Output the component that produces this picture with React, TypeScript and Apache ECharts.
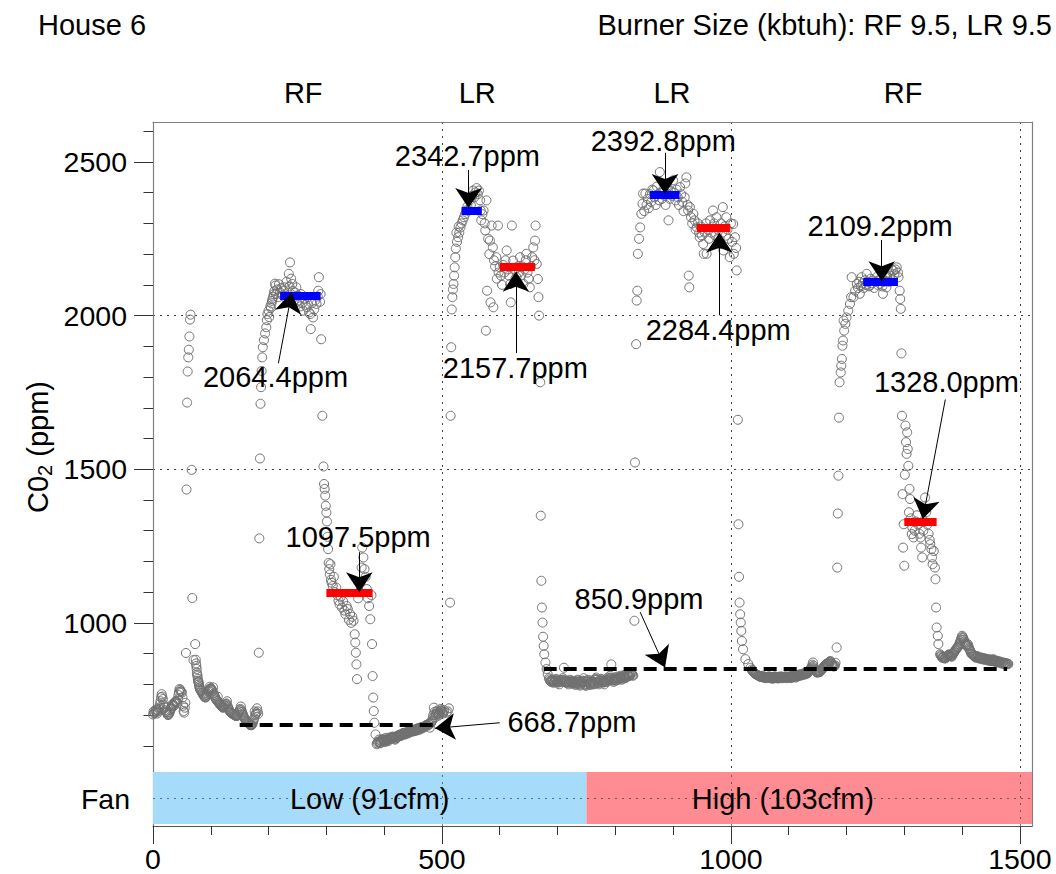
import React, { useEffect, useRef } from 'react';
import * as echarts from 'echarts';

type Pt = [number, number];

// ---------------- data (time, CO2 ppm) ----------------
const lowStart: Pt[] = [[0,702],[1,712],[3,708],[5,718],[7,705],[9,712],[11,725],[13,745],[15,768],[17,752],[18,735],[20,724],[22,712],[24,708],[26,700],[28,705],[30,716],[32,724],[34,736],[36,730],[38,742],[40,746],[42,738],[44,765],[46,785],[48,778],[50,773],[51,757],[52,730],[53,713],[54,708],[55,724],[56,740]];
const lowStartB: Pt[] = [[2,706],[4,714],[6,710],[8,716],[10,720],[12,735],[14,758],[16,760],[19,728],[21,716],[23,710],[25,703],[27,702],[29,710],[31,720],[33,730],[35,733],[37,738],[39,744],[41,742],[43,752],[45,775],[47,782],[49,776]];
const rf1Spike: Pt[] = [[57,902],[58,1434],[59,1717],[60,1818],[61,1864],[62,1889],[63,1932],[64,1987],[65,2003],[67,1498],[68,1081],[70,879],[73,931]];
const rf1Decay: Pt[] = [[74,880],[75,860],[76,838],[77,827],[78,812],[79,806],[80,795],[81,786],[83,779],[85,772],[87,766],[89,760],[91,757],[93,765],[95,776],[97,782],[98,792],[99,787],[101,785],[103,778],[104,790],[105,770],[107,760],[109,752],[111,746],[112,760],[113,742],[115,738],[117,732],[119,728],[121,724],[123,727],[125,733],[127,738],[128,745],[129,730],[131,720],[133,712],[135,708],[137,705],[139,703],[141,700],[143,698],[145,697],[147,702],[149,712],[151,720],[152,728],[153,716],[155,705],[157,695],[159,688],[161,682],[163,678],[165,674],[167,670],[169,667],[171,668],[173,676],[175,690],[176,712],[177,700],[179,708],[180,722],[181,712],[182,704]];
const rf1DecayB: Pt[] = [[74.5,868],[75.5,850],[76.5,832],[77.5,818],[78.5,808],[79.5,800],[80.5,790],[82,782],[84,776],[86,769],[88,763],[90,758],[92,760],[94,770],[96,779],[100,786],[102,782],[106,765],[108,756],[110,749],[114,740],[116,735],[118,730],[120,726],[122,725],[124,730],[126,736],[130,725],[132,716],[134,710],[136,706],[138,704],[140,701],[142,699],[144,697],[146,699],[148,707],[150,716],[154,710],[156,700],[158,691],[160,685],[162,680],[164,676],[166,672],[168,668],[170,667],[172,671],[174,683],[178,704]];
const rf1Rise: Pt[] = [[183,903],[184,1275],[185,1535],[186,1713],[187,1767],[188,1820],[189,1864],[190,1897],[192,1920],[194,1942],[196,1962],[197,1985],[198,2005],[200,2016],[201,1995],[203,2030],[205,2040],[207,2055],[209,2070],[211,2104]];
const rf1High: Pt[] = [[204,2025],[206,2048],[208,2062],[210,2080],[212,2098],[213,2070],[215,2085],[217,2060],[218,2102],[220,2075],[222,2090],[224,2066],[226,2081],[228,2092],[229,2058],[231,2110],[233,2075],[235,2136],[236,2095],[237,2173],[239,2120],[241,2103],[242,2080],[244,2060],[246,2075],[248,2092],[249,2045],[251,2065],[253,2049],[255,2030],[256,2070],[258,2040],[260,2016],[262,2055],[264,2035],[266,2027],[268,2060],[270,2010],[272,2005],[273,1956],[275,2040],[277,1994],[279,2020],[281,2050],[283,2038],[285,2062],[286,2081],[287,2125],[289,2045],[290,2070]];
const rf1Drop: Pt[] = [[291,1923],[293,1674],[295,1509],[296,1452],[297,1436],[298,1414],[299,1381],[300,1359]];
const rf1Low: Pt[] = [[301,1330],[302,1280],[303,1240],[304,1195],[305,1175],[306,1158],[307,1191],[308,1140],[309,1131],[311,1120],[313,1150],[315,1100],[317,1115],[319,1090],[321,1072],[323,1060],[325,1085],[327,1050],[329,1070],[331,1040],[333,1028],[335,1055],[337,1045],[339,1010],[341,1029],[343,1000],[345,1020],[347,1007],[349,963],[350,936],[351,903],[352,865],[353,817],[355,1080],[357,1100],[359,1130],[361,1180],[362,1245],[364,1213],[366,1175],[368,1150],[370,1110],[372,1080],[374,1055],[376,1012],[378,1090]];
const rf1Fall: Pt[] = [[379,931],[380,827],[381,757],[382,713],[383,675],[385,637],[387,605]];
const lowEnd: Pt[] = [[389,612],[391,620],[393,608],[395,615],[397,622],[399,618],[401,612],[403,626],[405,620],[407,615],[409,622],[411,628],[413,624],[415,630],[417,626],[419,620],[421,628],[423,633],[425,630],[427,637],[429,632],[431,638],[433,642],[435,636],[437,640],[439,645],[441,640],[443,648],[445,644],[447,650],[449,646],[451,652],[453,648],[455,655],[457,650],[459,658],[461,652],[463,660],[465,656],[467,662],[469,660],[471,664],[473,668],[475,665],[477,672],[479,659],[481,675],[483,682],[485,700],[486,724],[488,692],[490,705],[492,715],[494,698],[496,708],[498,720],[500,712],[502,705],[504,716],[508,708],[510,712]];
const lowEndB: Pt[] = [[388,608],[390,614],[392,612],[394,610],[396,618],[398,620],[400,615],[402,618],[404,622],[406,618],[408,620],[410,625],[412,626],[414,627],[416,628],[418,623],[420,624],[422,630],[424,632],[426,634],[428,635],[430,635],[432,640],[434,639],[436,638],[438,642],[440,642],[442,646],[444,646],[446,647],[448,648],[450,649],[452,650],[454,652],[456,652],[458,654],[460,655],[462,656],[464,658],[466,659],[468,661],[470,662],[472,666],[474,667],[476,668],[478,670],[480,672],[482,678],[484,690],[487,710],[489,700],[491,710],[493,705],[495,702],[497,714],[499,716],[501,708],[503,710]];
const lr1Rise: Pt[] = [[512,722],[514,1066],[515,1674],[516,1897],[517,2020],[518,2060],[519,2085],[520,2103],[521,2130],[522,2157],[523,2190],[524,2218],[525,2270],[526,2240],[528,2255],[529,2290],[530,2270],[532,2287],[534,2300],[536,2310],[538,2320],[540,2330],[542,2342],[544,2355],[546,2342],[548,2375],[550,2360],[552,2390],[554,2407],[556,2385],[558,2401],[560,2415],[562,2395],[564,2407],[566,2375],[567,2342],[568,2310]];
const lr1High: Pt[] = [[570,2330],[572,2342],[574,2300],[575,2277],[576,1951],[577,2375],[578,2081],[580,2250],[582,2200],[583,2244],[584,2043],[586,2293],[588,2222],[589,2027],[590,2180],[592,2160],[594,2190],[595,2120],[597,2293],[598,2140],[600,2157],[602,2130],[604,2100],[606,2165],[608,2140],[610,2180],[612,2212],[614,2150],[616,2130],[618,2103],[619,2043],[621,2293],[623,2179],[625,2150],[627,2120],[629,2125],[631,2160],[633,2140],[635,2190],[637,2130],[639,2160],[641,2103],[643,2150],[645,2180],[646,2201],[648,2140],[650,2120],[652,2092],[654,2160],[656,2190],[658,2222],[660,2180],[661,2244],[662,2293],[664,2168],[666,2119],[667,2060],[668,2000]];
const lr1Fall: Pt[] = [[670,1783],[671,1349],[672,1137],[673,1050],[674,1001],[675,955],[676,925],[677,898],[679,871],[681,850],[683,833]];
const highStart: Pt[] = [[685,820],[687,812],[689,808],[691,815],[693,805],[695,810],[697,818],[699,806],[701,812],[703,800],[705,815],[707,808],[709,820],[711,854],[713,812],[715,805],[717,810],[719,800],[721,815],[723,808],[725,802],[727,812],[729,805],[731,798],[733,808],[735,815],[737,802],[739,796],[741,810],[743,805],[745,820],[747,800],[749,795],[751,808],[753,815],[755,802],[757,798],[759,812],[761,805],[763,800],[765,815],[767,822],[769,808],[771,800],[773,812],[775,818],[777,806],[779,812],[781,800],[783,815],[785,808],[787,822],[789,812],[791,828],[793,865],[795,815],[797,808],[799,820],[801,812],[803,825],[805,815],[807,822],[809,828],[811,815],[813,822],[815,830],[817,820],[819,825],[821,833],[823,826],[825,830],[827,840],[829,833],[831,828]];
const highStartB: Pt[] = [[686,816],[688,810],[690,812],[692,810],[694,808],[696,814],[698,812],[700,809],[702,806],[704,808],[706,812],[708,814],[710,815],[712,808],[714,808],[716,808],[718,805],[720,808],[722,812],[724,805],[726,807],[728,808],[730,802],[732,803],[734,812],[736,808],[738,799],[740,803],[742,808],[744,812],[746,810],[748,798],[750,802],[752,812],[754,808],[756,800],[758,805],[760,808],[762,802],[764,808],[766,818],[768,815],[770,804],[772,806],[774,815],[776,812],[778,809],[780,806],[782,808],[784,812],[786,815],[788,817],[790,820],[792,822],[794,818],[796,812],[798,814],[800,816],[802,818],[804,820],[806,818],[808,825],[810,822],[812,818],[814,826],[816,825],[818,822],[820,829],[822,830],[824,828],[826,835],[828,836],[830,830]];
const lr2Rise: Pt[] = [[833,1007],[834,1522],[836,1907],[837,2049],[838,2081],[839,2201],[841,2250],[843,2287],[845,2331],[847,2364],[848,2397]];
const lr2High: Pt[] = [[850,2340],[852,2397],[854,2360],[856,2380],[858,2350],[860,2395],[862,2370],[864,2410],[866,2407],[868,2385],[870,2360],[872,2420],[874,2395],[876,2375],[877,2467],[879,2400],[881,2380],[883,2410],[885,2390],[887,2360],[889,2420],[891,2395],[892,2310],[894,2380],[896,2405],[898,2390],[900,2440],[902,2400],[904,2375],[906,2410],[908,2385],[910,2360],[912,2418],[914,2395],[916,2370],[918,2340],[920,2385],[921,2430],[923,2450],[925,2360],[926,2342],[927,2130],[928,2092],[929,2353],[931,2320],[933,2300],[935,2331],[937,2310],[939,2280],[941,2287],[943,2300],[945,2270],[946,2255],[948,2290],[950,2260],[952,2233],[953,2201],[955,2270],[957,2300],[958,2201],[960,2280],[962,2250],[964,2310],[966,2270],[968,2290],[969,2342],[971,2300],[973,2260],[975,2320],[977,2280],[979,2250],[981,2233],[983,2300],[985,2270],[986,2353],[987,2212],[989,2290],[991,2260],[992,2320],[994,2280],[996,2250],[998,2190],[1000,2300],[1002,2240],[1004,2298],[1005,2201],[1007,2255],[1009,2220],[1010,2147]];
const lr2Fall: Pt[] = [[1012,1661],[1013,1321],[1014,1150],[1015,1066],[1016,1028],[1017,1001],[1018,974],[1019,941],[1021,914],[1025,882],[1030,866],[1034,854]];
const highMid: Pt[] = [[1036,848],[1038,842],[1040,838],[1042,835],[1044,832],[1046,830],[1048,828],[1050,826],[1052,824],[1054,828],[1056,822],[1058,825],[1060,820],[1062,824],[1064,822],[1066,826],[1068,820],[1070,824],[1072,818],[1074,822],[1076,826],[1078,820],[1080,824],[1082,819],[1084,823],[1086,826],[1088,820],[1090,824],[1092,822],[1094,826],[1096,820],[1098,825],[1100,822],[1102,826],[1104,820],[1106,828],[1108,824],[1110,828],[1112,822],[1114,830],[1116,826],[1118,832],[1120,828],[1122,834],[1124,830],[1126,836],[1128,832],[1130,838],[1132,835],[1134,840],[1136,845],[1138,850],[1140,858],[1142,871],[1144,852],[1146,845],[1148,840],[1150,838],[1152,842],[1154,840],[1156,846],[1158,850],[1160,855],[1162,860],[1164,864],[1166,868],[1168,866],[1170,872],[1172,876],[1174,868],[1176,862],[1178,858],[1180,862]];
const highMidB: Pt[] = [[1037,845],[1039,840],[1041,836],[1043,833],[1045,831],[1047,829],[1049,827],[1051,825],[1053,826],[1055,825],[1057,823],[1059,822],[1061,822],[1063,823],[1065,824],[1067,823],[1069,822],[1071,821],[1073,820],[1075,824],[1077,823],[1079,822],[1081,821],[1083,821],[1085,824],[1087,823],[1089,822],[1091,823],[1093,824],[1095,823],[1097,822],[1099,823],[1101,824],[1103,823],[1105,824],[1107,826],[1109,826],[1111,825],[1113,826],[1115,828],[1117,829],[1119,830],[1121,831],[1123,832],[1125,833],[1127,834],[1129,835],[1131,836],[1133,838],[1135,842],[1137,848],[1139,854],[1141,864],[1143,860],[1145,848],[1147,842],[1149,839],[1151,840],[1153,841],[1155,843],[1157,848],[1159,852],[1161,858],[1163,862],[1165,866],[1167,867],[1169,869],[1171,874],[1173,872],[1175,865],[1177,860],[1179,860],[1181,870]];
const rf2Rise: Pt[] = [[1183,920],[1184,1180],[1185,1356],[1186,1479],[1187,1668],[1188,1783],[1190,1815],[1191,1837],[1192,1859],[1193,1902],[1194,1919],[1195,1984],[1196,1951],[1198,1973],[1200,1994],[1203,2016],[1206,2038],[1208,2060]];
const rf2High: Pt[] = [[1209,2125],[1212,2060],[1215,2081],[1218,2103],[1220,2090],[1222,2110],[1223,2071],[1225,2095],[1226,2125],[1228,2105],[1230,2090],[1232,2115],[1234,2100],[1235,2136],[1237,2110],[1239,2095],[1240,2098],[1242,2120],[1244,2105],[1246,2114],[1248,2090],[1250,2110],[1252,2125],[1254,2100],[1256,2115],[1258,2103],[1260,2120],[1262,2095],[1263,2071],[1265,2110],[1267,2125],[1269,2092],[1270,2125],[1272,2140],[1274,2110],[1276,2130],[1278,2150],[1280,2115],[1281,2147],[1283,2135],[1285,2150],[1287,2157],[1289,2140],[1290,2125],[1292,2081],[1293,2054],[1294,2022],[1295,1877]];
const rf2Low: Pt[] = [[1296,1674],[1297,1419],[1298,1245],[1299,1321],[1300,1186],[1301,1482],[1302,1642],[1303,1588],[1304,1550],[1305,1620],[1306,1566],[1307,1511],[1308,1360],[1309,1436],[1310,1403],[1311,1340],[1313,1289],[1314,1310],[1316,1278],[1318,1300],[1320,1330],[1322,1350],[1324,1320],[1326,1290],[1328,1278],[1329,1245],[1331,1213],[1333,1300],[1335,1330],[1336,1408],[1338,1360],[1340,1320],[1342,1290],[1344,1270],[1345,1256],[1347,1240],[1348,1213],[1349,1191],[1351,1234],[1353,1180],[1354,1142],[1355,1050],[1356,985],[1358,958],[1359,931],[1362,898]];
const highEnd: Pt[] = [[1364,892],[1366,886],[1368,890],[1370,884],[1372,887],[1374,892],[1376,895],[1378,898],[1380,893],[1382,890],[1384,898],[1386,904],[1388,910],[1390,915],[1392,920],[1394,925],[1396,935],[1398,945],[1400,958],[1402,950],[1404,940],[1406,932],[1408,925],[1410,931],[1412,918],[1414,910],[1416,900],[1418,898],[1420,894],[1422,890],[1424,887],[1426,892],[1428,887],[1430,884],[1432,888],[1434,882],[1436,886],[1438,880],[1440,884],[1442,882],[1444,878],[1446,882],[1448,876],[1450,880],[1452,876],[1454,882],[1456,874],[1458,878],[1460,872],[1462,876],[1464,871],[1466,874],[1468,868],[1470,872],[1472,866],[1474,870],[1476,865],[1478,868],[1480,866]];
const highEndB: Pt[] = [[1363,895],[1365,889],[1367,888],[1369,887],[1371,885],[1373,890],[1375,893],[1377,896],[1379,895],[1381,891],[1383,894],[1385,901],[1387,907],[1389,912],[1391,918],[1393,922],[1395,930],[1397,940],[1399,952],[1401,954],[1403,945],[1405,936],[1407,928],[1409,928],[1411,925],[1413,914],[1415,905],[1417,899],[1419,896],[1421,892],[1423,888],[1425,890],[1427,890],[1429,885],[1431,886],[1433,885],[1435,884],[1437,883],[1439,882],[1441,883],[1443,880],[1445,880],[1447,879],[1449,878],[1451,878],[1453,879],[1455,878],[1457,876],[1459,875],[1461,874],[1463,873],[1465,872],[1467,871],[1469,870],[1471,869],[1473,868],[1475,867],[1477,866],[1479,867]];

const meanBars = [
  { t0: 220, t1: 290, value: 2064.4, color: '#0000ff' },
  { t0: 300, t1: 380, value: 1097.5, color: '#ff0000' },
  { t0: 534, t1: 569, value: 2342.7, color: '#0000ff' },
  { t0: 600, t1: 661, value: 2157.7, color: '#ff0000' },
  { t0: 860, t1: 911, value: 2392.8, color: '#0000ff' },
  { t0: 941, t1: 999, value: 2284.4, color: '#ff0000' },
  { t0: 1229, t1: 1289, value: 2109.2, color: '#0000ff' },
  { t0: 1300, t1: 1356, value: 1328.0, color: '#ff0000' },
];
const baselines = [
  { t0: 150, t1: 490, value: 668.7 },
  { t0: 676, t1: 1478, value: 850.9 },
];
const annotations: { text: string; at: Pt; from: Pt; to: Pt }[] = [
  { text: '2064.4ppm', at: [212, 1800], from: [217, 1845], to: [240, 2075] },
  { text: '2342.7ppm', at: [544, 2519], from: [546, 2474], to: [546, 2350] },
  { text: '2157.7ppm', at: [627, 1831], from: [628, 1878], to: [628, 2143] },
  { text: '2392.8ppm', at: [883, 2569], from: [886, 2530], to: [886, 2396] },
  { text: '2284.4ppm', at: [978, 1954], from: [980, 2001], to: [980, 2270] },
  { text: '2109.2ppm', at: [1258, 2290], from: [1261, 2246], to: [1261, 2112] },
  { text: '1328.0ppm', at: [1373, 1785], from: [1371, 1727], to: [1332, 1338] },
  { text: '1097.5ppm', at: [355, 1280], from: [357, 1230], to: [357, 1100] },
  { text: '850.9ppm', at: [841, 1077], from: [843, 1035], to: [886, 855] },
  { text: '668.7ppm', at: [725, 678], from: [600, 675], to: [488, 657] },
];
const burners = [
  { t: 260, name: 'RF' },
  { t: 561, name: 'LR' },
  { t: 898, name: 'LR' },
  { t: 1298, name: 'RF' },
];
const fanModes = [
  { t0: 0, t1: 750, label: 'Low (91cfm)', labelAt: 375, color: '#a6dbf9' },
  { t0: 750, t1: 1521, label: 'High (103cfm)', labelAt: 1090, color: '#ff8b93' },
];

const X_MIN = 0;
const X_MAX = 1521;
const Y_MIN = 518;
const Y_MAX = 2630;
const xMajorTicks = [0, 500, 1000, 1500];
const xMinorTicks = [100, 200, 300, 400, 600, 700, 800, 900, 1100, 1200, 1300, 1400];
const yMajorTicks = [1000, 1500, 2000, 2500];
const yMinorTicks = [600, 700, 800, 900, 1100, 1200, 1300, 1400, 1600, 1700, 1800, 1900, 2100, 2200, 2300, 2400, 2600];
const BURNER_LABEL_Y = 2724;

const FONT = '"Liberation Sans", Arial, Helvetica, sans-serif';

export default function App() {
  const ref = useRef<HTMLDivElement>(null);
  useEffect(() => {
    if (!ref.current) return;
    const chart = echarts.init(ref.current, null, { renderer: 'svg' });
    const points: Pt[] = [
      ...lowStart, ...lowStartB, ...rf1Spike, ...rf1Decay, ...rf1DecayB, ...rf1Rise, ...rf1High, ...rf1Drop,
      ...rf1Low, ...rf1Fall, ...lowEnd, ...lowEndB, ...lr1Rise, ...lr1High, ...lr1Fall, ...highStart,
      ...highStartB, ...lr2Rise, ...lr2High, ...lr2Fall, ...highMid, ...highMidB, ...rf2Rise, ...rf2High,
      ...rf2Low, ...highEnd, ...highEndB,
    ];
    const dotted = { color: '#444', type: [2, 5], width: 1 };
    const boxLine = { color: '#808080', width: 1.2 };
    const tickLine = { color: '#333', width: 1 };
    const textLabel = { show: true, position: 'inside', formatter: '{b}', fontSize: 29, color: '#000', fontFamily: FONT };
    const invisible = { color: 'rgba(0,0,0,0)', opacity: 1 };

    const levelLines: any[] = [
      ...meanBars.map((b) => [
        { coord: [b.t0, b.value], lineStyle: { color: b.color, width: 8, type: 'solid' } },
        { coord: [b.t1, b.value] },
      ]),
      ...baselines.map((b) => [
        { coord: [b.t0, b.value], lineStyle: { color: '#000', width: 4, type: [13, 7] } },
        { coord: [b.t1, b.value] },
      ]),
    ];

    const option: any = {
      animation: false,
      backgroundColor: '#ffffff',
      grid: [
        { left: 153, top: 122, width: 879, height: 649 },
        { left: 153, top: 771, width: 879, height: 55 },
      ],
      xAxis: [
        {
          gridIndex: 0, type: 'value', min: X_MIN, max: X_MAX, interval: 500, position: 'top',
          axisLine: { show: true, onZero: false, lineStyle: boxLine },
          axisTick: { show: false }, axisLabel: { show: false },
          splitLine: { show: true, showMinLine: false, showMaxLine: false, lineStyle: dotted },
        },
        {
          gridIndex: 1, type: 'value', min: X_MIN, max: X_MAX, interval: 500, position: 'bottom',
          axisLine: { show: true, onZero: false, lineStyle: { color: '#555', width: 1.2 } },
          axisTick: { show: true, length: 18, customValues: xMajorTicks, lineStyle: tickLine },
          axisLabel: {
            show: true, customValues: xMajorTicks, margin: 18, fontSize: 28.5, color: '#000', fontFamily: FONT,
            formatter: (v: number) => String(v),
          },
          splitLine: { show: false },
        },
        {
          gridIndex: 1, type: 'value', min: X_MIN, max: X_MAX, position: 'bottom',
          axisLine: { show: false },
          axisTick: { show: true, length: 9, customValues: xMinorTicks, lineStyle: tickLine },
          axisLabel: { show: false }, splitLine: { show: false },
        },
      ],
      yAxis: [
        {
          gridIndex: 0, type: 'value', min: Y_MIN, max: Y_MAX, position: 'left',
          axisLine: { show: true, onZero: false, lineStyle: boxLine },
          axisTick: { show: true, length: 19, customValues: yMajorTicks, lineStyle: tickLine },
          axisLabel: {
            show: true, customValues: yMajorTicks, margin: 26, fontSize: 28.5, color: '#000', fontFamily: FONT,
            formatter: (v: number) => String(v),
          },
          splitLine: { show: true, showMinLine: false, showMaxLine: false, lineStyle: dotted },
        },
        {
          gridIndex: 0, type: 'value', min: Y_MIN, max: Y_MAX, position: 'left',
          axisLine: { show: false },
          axisTick: { show: true, length: 9.5, customValues: yMinorTicks, lineStyle: tickLine },
          axisLabel: { show: false }, splitLine: { show: false },
        },
        {
          gridIndex: 0, type: 'value', min: Y_MIN, max: Y_MAX, position: 'right',
          axisLine: { show: true, onZero: false, lineStyle: boxLine },
          axisTick: { show: false }, axisLabel: { show: false }, splitLine: { show: false },
        },
        {
          gridIndex: 1, type: 'value', min: 0, max: 2, position: 'left',
          axisLine: { show: true, onZero: false, lineStyle: boxLine },
          axisTick: { show: false },
          axisLabel: {
            show: true, customValues: [1], margin: 23, fontSize: 28.5, color: '#000', fontFamily: FONT,
            formatter: () => 'Fan',
          },
          splitLine: { show: false },
        },
        {
          gridIndex: 1, type: 'value', min: 0, max: 2, position: 'right',
          axisLine: { show: true, onZero: false, lineStyle: boxLine },
          axisTick: { show: false }, axisLabel: { show: false }, splitLine: { show: false },
        },
      ],
      series: [
        {
          type: 'scatter', name: 'CO2', xAxisIndex: 0, yAxisIndex: 0, data: points, z: 2, silent: true,
          symbol: 'circle', symbolSize: 9,
          itemStyle: { color: 'rgba(0,0,0,0)', borderColor: '#707070', borderWidth: 1, opacity: 1 },
        },
        {
          type: 'scatter', xAxisIndex: 0, yAxisIndex: 0, data: [], z: 3, silent: true,
          markLine: {
            silent: true, symbol: ['none', 'none'], label: { show: false },
            lineStyle: { type: 'solid', opacity: 1 }, emphasis: { disabled: true },
            data: levelLines,
          },
        },
        {
          type: 'scatter', xAxisIndex: 0, yAxisIndex: 0, data: [], z: 4, silent: true,
          markLine: {
            silent: true, symbol: ['none', 'arrow'], symbolSize: 20, label: { show: false },
            lineStyle: { type: 'solid', color: '#000', width: 1, opacity: 1 }, itemStyle: { color: '#000' },
            emphasis: { disabled: true },
            data: annotations.map((a) => [{ coord: a.from }, { coord: a.to }]),
          },
        },
        {
          type: 'scatter', xAxisIndex: 0, yAxisIndex: 0, z: 5, silent: true, symbolSize: 1,
          itemStyle: invisible,
          data: annotations.map((a) => ({ value: a.at, name: a.text })),
          label: textLabel,
        },
        {
          type: 'scatter', xAxisIndex: 0, yAxisIndex: 0, z: 5, silent: true, symbolSize: 1, clip: false,
          itemStyle: invisible,
          data: burners.map((b) => ({ value: [b.t, BURNER_LABEL_Y], name: b.name })),
          label: textLabel,
        },
        {
          type: 'scatter', xAxisIndex: 1, yAxisIndex: 3, data: [], z: 2, silent: true,
          markArea: {
            silent: true, label: { show: false },
            data: fanModes.map((f) => [
              { coord: [f.t0, 0.07], itemStyle: { color: f.color, opacity: 1, borderWidth: 0 } },
              { coord: [f.t1, 1.96] },
            ]),
          },
        },
        {
          type: 'scatter', xAxisIndex: 1, yAxisIndex: 3, data: [], z: 3, silent: true,
          markLine: {
            silent: true, symbol: ['none', 'none'], label: { show: false },
            lineStyle: { type: [2, 5], color: 'rgba(40,40,40,0.6)', width: 1 },
            data: [{ yAxis: 1 }, ...xMajorTicks.slice(1).map((v) => ({ xAxis: v }))],
          },
        },
        {
          type: 'scatter', xAxisIndex: 1, yAxisIndex: 3, z: 5, silent: true, symbolSize: 1,
          itemStyle: invisible,
          data: fanModes.map((f) => ({ value: [f.labelAt, 1], name: f.label })),
          label: textLabel,
        },
      ],
      graphic: [
        {
          type: 'text', x: 38, y: 25,
          style: { text: 'House 6', fontSize: 29, fontFamily: FONT, fill: '#000', textAlign: 'left', textVerticalAlign: 'middle' },
        },
        {
          type: 'text', x: 1052, y: 25,
          style: { text: 'Burner Size (kbtuh): RF 9.5, LR 9.5', fontSize: 29, fontFamily: FONT, fill: '#000', textAlign: 'right', textVerticalAlign: 'middle' },
        },
        {
          type: 'text', x: 38, y: 447, rotation: Math.PI / 2,
          style: {
            text: '{a|C0}{b|2}{a| (ppm)}',
            textAlign: 'center', textVerticalAlign: 'middle',
            rich: {
              a: { fontSize: 29, fontFamily: FONT, fill: '#000', lineHeight: 34, verticalAlign: 'middle' },
              b: { fontSize: 20, fontFamily: FONT, fill: '#000', lineHeight: 18, verticalAlign: 'bottom' },
            },
          },
        },
      ],
    };
    chart.setOption(option);
    return () => chart.dispose();
  }, []);
  return (
    <div
      ref={ref}
      style={{ position: 'fixed', left: 0, top: 0, width: 1056, height: 874, background: '#fff' }}
    />
  );
}
